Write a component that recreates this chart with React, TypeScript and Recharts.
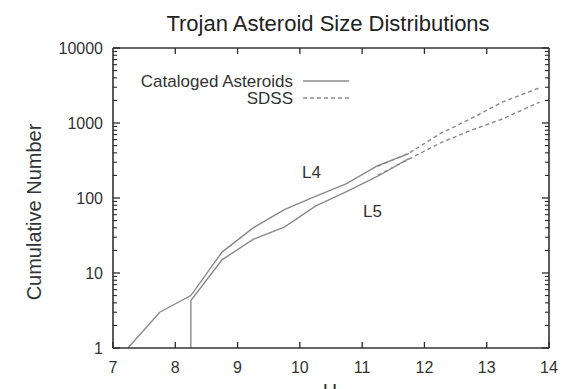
import React from 'react';
import { LineChart, Line, XAxis, YAxis, ReferenceLine } from 'recharts';

// ---- data ----
const xTicks = [7, 8, 9, 10, 11, 12, 13, 14];
const yTicks = [1, 10, 100, 1000, 10000];
const yMinorTicks = [
  2, 3, 4, 5, 6, 7, 8, 9,
  20, 30, 40, 50, 60, 70, 80, 90,
  200, 300, 400, 500, 600, 700, 800, 900,
  2000, 3000, 4000, 5000, 6000, 7000, 8000, 9000,
];

const catL4H = [7.24, 7.75, 8.25, 8.75, 9.25, 9.75, 10.25, 10.75, 11.25, 11.75];
const catL4N = [1, 3, 5, 19, 40, 70, 105, 155, 270, 390];

const catL5H = [8.25, 8.25, 8.75, 9.25, 9.75, 10.25, 10.75, 11.25, 11.75];
const catL5N = [1, 4.3, 15, 28, 41, 78, 122, 195, 335];

const sdssL4H = [11.25, 11.75, 12.25, 12.75, 13.25, 13.85];
const sdssL4N = [265, 395, 720, 1150, 1900, 2950];

const sdssL5H = [11.25, 11.75, 12.25, 12.75, 13.25, 13.85];
const sdssL5N = [200, 330, 540, 800, 1130, 1900];

const title = 'Trojan Asteroid Size Distributions';
const xLabel = 'H';
const yLabel = 'Cumulative Number';
const legendCatalog = 'Cataloged Asteroids';
const legendSdss = 'SDSS';
const labelL4 = 'L4';
const labelL5 = 'L5';

const toRows = (hs: number[], ns: number[]) => hs.map((h, i) => ({ h, n: ns[i] }));

const catL4 = toRows(catL4H, catL4N);
const catL5 = toRows(catL5H, catL5N);
const sdssL4 = toRows(sdssL4H, sdssL4N);
const sdssL5 = toRows(sdssL5H, sdssL5N);
const yAllTicks = [...yTicks, ...yMinorTicks].sort((a, b) => a - b);

const W = 563;
const H = 389;
const FONT = '"Liberation Sans", Arial, Helvetica, sans-serif';
const FRAME = '#333333';
const TICK = '#2a2a2a';
const LINE = '#8a8a8a';
const TEXT = '#333333';
const MAJ = 7;
const MIN = 4;
const TS = 6;
const TM = 2;
const OFF = TS + TM;
const Y_MAX = 10000;
const TOP_TICK_END = Y_MAX / 1.2; // short inward tick at the top frame (log axis)

const BottomTick = (p: any) => (
  <g>
    <line x1={p.x} x2={p.x} y1={p.y - OFF} y2={p.y - OFF - 6} stroke={TICK} strokeWidth={1.3} />
    <text x={p.x} y={p.y + 17} textAnchor="middle" fontSize={16} fontFamily={FONT} fill={TEXT}>
      {p.payload.value}
    </text>
  </g>
);
const LeftTick = (p: any) => {
  const v = p.payload.value;
  const major = yTicks.includes(v);
  const ax = p.x + OFF;
  return (
    <g>
      <line x1={ax} x2={ax + (major ? MAJ : MIN)} y1={p.y} y2={p.y} stroke={TICK} strokeWidth={major ? 1.3 : 1.1} />
      {major ? (
        <text x={ax - 10} y={p.y + 5.7} textAnchor="end" fontSize={16} fontFamily={FONT} fill={TEXT}>
          {v}
        </text>
      ) : null}
    </g>
  );
};
const RightTick = (p: any) => {
  const v = p.payload.value;
  const major = yTicks.includes(v);
  const ax = p.x + OFF;
  return (
    <line x1={ax} x2={ax - (major ? MAJ : MIN)} y1={p.y} y2={p.y} stroke={TICK} strokeWidth={major ? 1.3 : 1.1} />
  );
};

const logY = {
  scale: 'log' as const,
  type: 'number' as const,
  domain: [1, Y_MAX],
  allowDataOverflow: true,
  interval: 0 as const,
  ticks: yAllTicks,
  tickSize: TS,
  tickMargin: TM,
};
const linX = {
  type: 'number' as const,
  domain: [7, 14],
  interval: 0 as const,
  ticks: xTicks,
  tickSize: TS,
  tickMargin: TM,
};
const noTickLine = { stroke: 'none' };

export default function App() {
  return (
    <div style={{ position: 'relative', width: W, height: H, overflow: 'hidden', background: '#fff' }}>
      <style>{`html,body{margin:0;padding:0;overflow:hidden;background:#fff}`}</style>
      <LineChart width={W} height={H} margin={{ top: 48, right: 14, left: 53, bottom: 11 }}>
        <XAxis xAxisId="b" dataKey="h" {...linX} height={30} tickLine={noTickLine} axisLine={{ stroke: FRAME, strokeWidth: 1.6 }} tick={BottomTick} />
        <XAxis xAxisId="t" orientation="top" mirror {...linX} height={1} tickLine={false} tick={false} axisLine={{ stroke: FRAME, strokeWidth: 1.6 }} />
        <YAxis yAxisId="main" orientation="left" width={60} {...logY} tickLine={noTickLine} axisLine={{ stroke: FRAME, strokeWidth: 1.6 }} tick={LeftTick} />
        <YAxis yAxisId="r" orientation="right" mirror width={1} {...logY} tickLine={noTickLine} axisLine={{ stroke: FRAME, strokeWidth: 1.6 }} tick={RightTick} />
        {xTicks.slice(1, -1).map((x) => (
          <ReferenceLine
            key={`tt-${x}`}
            xAxisId="b"
            yAxisId="main"
            segment={[{ x, y: Y_MAX }, { x, y: TOP_TICK_END }]}
            stroke={TICK}
            strokeWidth={1.3}
            ifOverflow="visible"
          />
        ))}
        <Line xAxisId="b" yAxisId="main" data={catL4} dataKey="n" type="linear" stroke={LINE} strokeWidth={1.4} dot={false} isAnimationActive={false} />
        <Line xAxisId="b" yAxisId="main" data={catL5} dataKey="n" type="linear" stroke={LINE} strokeWidth={1.4} dot={false} isAnimationActive={false} />
        <Line xAxisId="b" yAxisId="main" data={sdssL4} dataKey="n" type="linear" stroke={LINE} strokeWidth={1.4} strokeDasharray="4 3" dot={false} isAnimationActive={false} />
        <Line xAxisId="b" yAxisId="main" data={sdssL5} dataKey="n" type="linear" stroke={LINE} strokeWidth={1.4} strokeDasharray="4 3" dot={false} isAnimationActive={false} />
      </LineChart>
      <svg width={W} height={H} style={{ position: 'absolute', left: 0, top: 0, pointerEvents: 'none' }} fontFamily={FONT}>
        <text x={328} y={31} textAnchor="middle" fontSize={22} fill="#222">{title}</text>
        <text x={41} y={212} textAnchor="middle" fontSize={20} fill={TEXT} transform="rotate(-90, 41, 212)">{yLabel}</text>
        <text x={330} y={398} textAnchor="middle" fontSize={20} fill={TEXT}>{xLabel}</text>
        <text x={293} y={87} textAnchor="end" fontSize={17} fill={TEXT}>{legendCatalog}</text>
        <line x1={303} x2={349} y1={81} y2={81} stroke={LINE} strokeWidth={1.4} />
        <text x={293} y={104} textAnchor="end" fontSize={17} fill={TEXT}>{legendSdss}</text>
        <line x1={303} x2={349} y1={98} y2={98} stroke={LINE} strokeWidth={1.4} strokeDasharray="4 3" />
        <text x={302} y={178} fontSize={17} fill={TEXT}>{labelL4}</text>
        <text x={363} y={217} fontSize={17} fill={TEXT}>{labelL5}</text>
      </svg>
    </div>
  );
}
